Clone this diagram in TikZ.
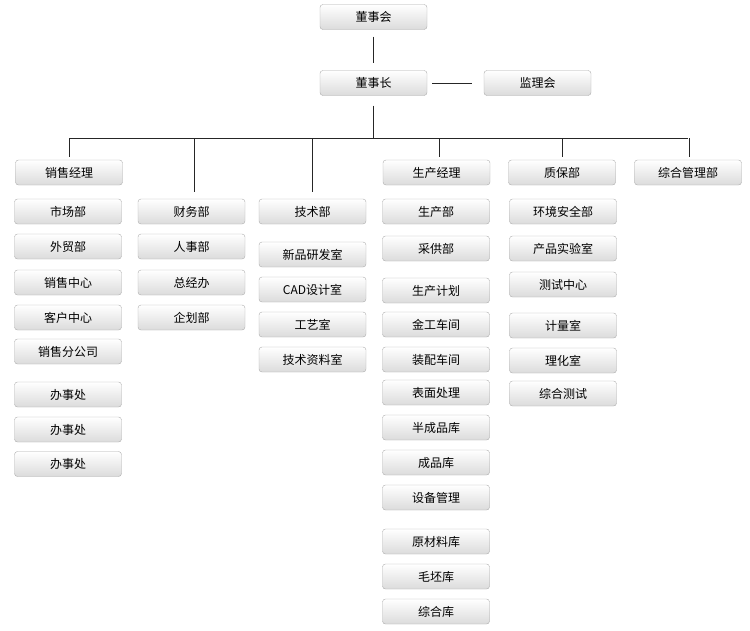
\documentclass[tikz,border=0pt]{standalone}
\usepackage{fontspec}
\setmainfont{Noto Sans CJK SC}
\usepackage{tikz}

\begin{document}
\begin{tikzpicture}[x=1pt,y=-1pt,
    box/.style={draw=gray!65, rounded corners=3pt, top color=white, bottom color=gray!28,
                minimum width=107pt, minimum height=25pt, inner sep=0pt, font=\fontsize{12}{14}\selectfont},
    link/.style={draw=black!85, line width=0.8pt}]
  \useasboundingbox (0,0) rectangle (750,630);

  \node[box] (dsh) at (373.5,17) {董事会};
  \node[box] (dsz) at (373.5,83) {董事长};
  \node[box] (jlh) at (537.5,83) {监理会};
  \coordinate (bus) at (373.5,138);

  \node[box] (xsjl) at (69,172.5) {销售经理};
  \node[box] (scjl) at (436.5,172.5) {生产经理};
  \node[box] (zbb)  at (562,172.5) {质保部};
  \node[box] (zhgl) at (688,172.5) {综合管理部};

  \node[box] (scb1) at (68,211.5) {市场部};
  \node[box] (wmb)  at (68,246.5) {外贸部};
  \node[box] (xszx) at (68,282.5) {销售中心};
  \node[box] (khzx) at (68,317.5) {客户中心};
  \node[box] (xsfg) at (68,351.5) {销售分公司};
  \node[box] (bsc1) at (68,394.5) {办事处};
  \node[box] (bsc2) at (68,429.5) {办事处};
  \node[box] (bsc3) at (68,464) {办事处};

  \node[box] (cwb)  at (191.5,211.5) {财务部};
  \node[box] (rsb)  at (191.5,246.5) {人事部};
  \node[box] (zjb)  at (191.5,282.5) {总经办};
  \node[box] (qhb)  at (191.5,317.5) {企划部};

  \node[box] (jsb)  at (312.5,211.5) {技术部};
  \node[box] (xpyf) at (312.5,254.5) {新品研发室};
  \node[box] (cad)  at (312.5,289.5) {CAD设计室};
  \node[box] (gys)  at (312.5,324.5) {工艺室};
  \node[box] (jszl) at (312.5,359.5) {技术资料室};

  \node[box] (scb)  at (436,211.5) {生产部};
  \node[box] (cgb)  at (436,248.5) {采供部};
  \node[box] (scjh) at (436,290.5) {生产计划};
  \node[box] (jgcj) at (436,324.5) {金工车间};
  \node[box] (zpcj) at (436,359.5) {装配车间};
  \node[box] (bmcl) at (436,392.5) {表面处理};
  \node[box] (bcpk) at (436,427.5) {半成品库};
  \node[box] (cpk)  at (436,462.5) {成品库};
  \node[box] (sbgl) at (436,497.5) {设备管理};
  \node[box] (yclk) at (436,541.5) {原材料库};
  \node[box] (mpk)  at (436,576.5) {毛坯库};
  \node[box] (zhk)  at (436,611.5) {综合库};

  \node[box] (hjaq) at (563,211.5) {环境安全部};
  \node[box] (cpsy) at (563,248.5) {产品实验室};
  \node[box] (cszx) at (563,284.5) {测试中心};
  \node[box] (jls)  at (563,325.5) {计量室};
  \node[box] (lhs)  at (563,360.5) {理化室};
  \node[box] (zhcs) at (563,393.5) {综合测试};

  \draw[link, shorten <=7pt, shorten >=7pt] (dsh.south) -- (dsz.north);
  \draw[link, shorten <=5pt, shorten >=12pt] (dsz.east) -- (jlh.west);
  \draw[link, shorten <=10pt] (dsz.south) -- (bus);
  \draw[link] (xsjl.north |- bus) -- (zhgl.north |- bus);
  \draw[link, shorten >=3pt] (xsjl.north |- bus) -- (xsjl.north);
  \draw[link, shorten >=7pt] ([xshift=2.5pt]cwb.north |- bus) -- ([xshift=2.5pt]cwb.north);
  \draw[link, shorten >=7pt] (jsb.north |- bus) -- (jsb.north);
  \draw[link, shorten >=3pt] ([xshift=2.5pt]scjl.north |- bus) -- ([xshift=2.5pt]scjl.north);
  \draw[link, shorten >=3pt] (zbb.north |- bus) -- (zbb.north);
  \draw[link, shorten >=3pt] ([xshift=1pt]zhgl.north |- bus) -- ([xshift=1pt]zhgl.north);
\end{tikzpicture}
\end{document}
